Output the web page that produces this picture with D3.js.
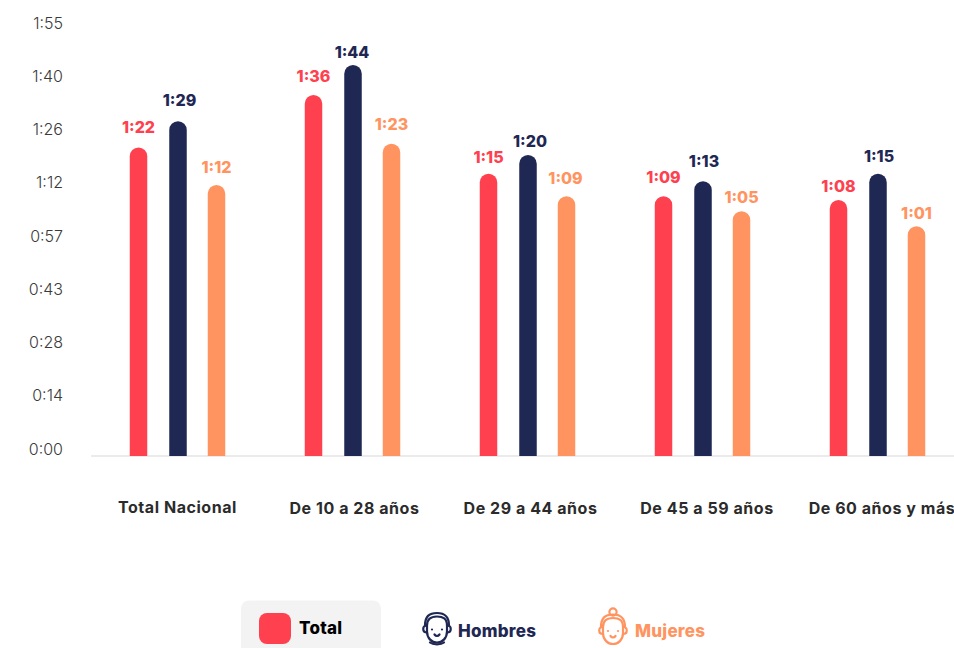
<!DOCTYPE html>
<html><head><meta charset="utf-8">
<script src="https://cdn.jsdelivr.net/npm/d3@7"></script>
<style>html,body{margin:0;padding:0;background:#fff;overflow:hidden}svg{display:block}text{font-family:Inter,"Open Sans",sans-serif}</style>
</head><body>
<script>
const categories = ["Total Nacional","De 10 a 28 años","De 29 a 44 años","De 45 a 59 años","De 60 años y más"];
const seriesNames = ["Total","Hombres","Mujeres"];
const totalVals = ["1:22","1:36","1:15","1:09","1:08"];
const hombresVals = ["1:29","1:44","1:20","1:13","1:15"];
const mujeresVals = ["1:12","1:23","1:09","1:05","1:01"];
const tickLabels = ["1:55","1:40","1:26","1:12","0:57","0:43","0:28","0:14","0:00"];
const colors = ["#ff404e","#1f2753","#ff9461"];
const seriesVals = [totalVals,hombresVals,mujeresVals];
// label placement quirks of the original, separate from the data
const labelGaps = [[20,18.5,16,18.5,13.5],[21,12.5,13.5,19.75,17],[17.5,19,17.75,13.75,12.75]];
const labelDx = [[0,0,0,0,0],[1.5,-1,2,1,1],[0,0,-1,0,0]];
const catDx = [-0.5,1.5,2.5,4,4];
const toMin = s => { const [h,m]=s.split(":").map(Number); return h*60+m; };

const svg = d3.select("body").append("svg").attr("width",954).attr("height",648);
const y = d3.scaleLinear().domain([0,104]).range([455,65]);
const x0 = d3.scaleBand().domain(categories).range([90.5,965.5]);
const x1 = d3.scaleOrdinal().domain(seriesNames).range([-39.5,0,38.5]);
const yTicks = d3.scalePoint().domain(tickLabels).range([23,449]);
const barW = 17.5;

svg.append("line").attr("x1",91).attr("x2",954).attr("y1",456).attr("y2",456)
   .attr("stroke","#e4e4e4").attr("stroke-width",1.5);

svg.append("g").selectAll("text").data(tickLabels).join("text")
  .attr("x",63).attr("y",d=>yTicks(d)).attr("dy","0.35em").attr("text-anchor","end")
  .attr("font-size",16).attr("font-weight",300).attr("fill","#3a3a3a").text(d=>d);

seriesNames.forEach((s,si)=>{
  const data = categories.map((c,i)=>({c,i,v:seriesVals[si][i]}));
  const g = svg.append("g");
  const bx = d => x0(d.c)+x0.bandwidth()/2+x1(s)-barW/2;
  g.selectAll("path").data(data).join("path").attr("fill",colors[si])
   .attr("d",d=>{
     const t=y(toMin(d.v)), b=y(0)+1, l=bx(d), r=barW/2;
     return `M${l},${b}V${t+r}A${r},${r} 0 0 1 ${l+barW},${t+r}V${b}Z`;
   });
  g.selectAll("text").data(data).join("text")
   .attr("x",d=>bx(d)+barW/2+labelDx[si][d.i]).attr("y",d=>y(toMin(d.v))-labelGaps[si][d.i]).attr("dy","0.35em")
   .attr("text-anchor","middle").attr("font-size",16).attr("font-weight",800)
   .attr("fill",colors[si]).text(d=>d.v);
});

svg.append("g").selectAll("text").data(categories).join("text")
  .attr("x",(d,i)=>x0(d)+x0.bandwidth()/2+catDx[i])
  .attr("y",(d,i)=>i===0?507:508).attr("dy","0.35em").attr("text-anchor","middle")
  .attr("font-size",16).attr("letter-spacing",0.55).attr("font-weight",700).attr("fill","#2b2b2b").text(d=>d);

const leg = svg.append("g");
leg.append("rect").attr("x",241).attr("y",600.5).attr("width",140).attr("height",60).attr("rx",8).attr("fill","#f3f3f3");
leg.append("rect").attr("x",259).attr("y",613).attr("width",32).attr("height",31).attr("rx",8).attr("fill",colors[0]);
const legText = (x,yy,c,t)=>leg.append("text").attr("x",x).attr("y",yy).attr("dy","0.35em").attr("font-size",17).attr("letter-spacing",0.25).attr("font-weight",800).attr("fill",c).text(t);
legText(299,628.5,"#000",seriesNames[0]);
legText(458,631.5,colors[1],seriesNames[1]);
legText(635,631.5,colors[2],seriesNames[2]);

function face(cx,cy,color,bun){
  const g = leg.append("g").attr("transform",`translate(${cx},${cy})`).attr("fill","none").attr("stroke",color).attr("stroke-width",2.2).attr("stroke-linecap","round");
  g.append("path").attr("d","M-10,-3 C-10,-10 -6,-12 0,-12 C6,-12 10,-10 10,-3 V3 C10,10 5,14 0,14 C-5,14 -10,10 -10,3 Z");
  g.append("path").attr("d","M-10,-3 C-15,-3 -15,4 -10,4 M10,-3 C15,-3 15,4 10,4");
  g.append("path").attr("d","M-12,-3 C-12,-12 -8,-15.5 0,-15.5 C8,-15.5 12,-12 12,-3");
  g.append("path").attr("d","M-2.5,6 C-1,8 1,8 2.5,6");
  g.append("circle").attr("cx",-5).attr("cy",1).attr("r",1.1).attr("fill",color).attr("stroke","none");
  g.append("circle").attr("cx",5).attr("cy",1).attr("r",1.1).attr("fill",color).attr("stroke","none");
  if(bun) g.append("circle").attr("cx",0).attr("cy",-18).attr("r",3.6);
  else g.append("path").attr("d","M-7,14 C-4,16.5 4,16.5 7,14");
}
face(437,628.5,colors[1],false);
face(613,630,colors[2],true);
</script>
</body></html>
